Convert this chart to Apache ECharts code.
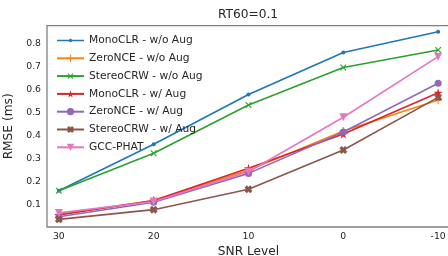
<!DOCTYPE html>
<html>
<head>
<meta charset="utf-8">
<script src="https://cdn.jsdelivr.net/npm/echarts@6/dist/echarts.min.js"></script>
<style>html,body{margin:0;padding:0;background:#fff}#c{width:448px;height:256px}</style>
</head>
<body>
<div id="c"></div>
<script>
const snrLevels = [30, 20, 10, 0, -10];
const yTicks = [0.1, 0.2, 0.3, 0.4, 0.5, 0.6, 0.7, 0.8];
const seriesNames = ['MonoCLR - w/o Aug', 'ZeroNCE - w/o Aug', 'StereoCRW - w/o Aug', 'MonoCLR - w/ Aug', 'ZeroNCE - w/ Aug', 'StereoCRW - w/ Aug', 'GCC-PHAT'];
const monoclrNoAug = [0.162, 0.363, 0.578, 0.760, 0.850];
const zeronceNoAug = [0.060, 0.120, 0.250, 0.420, 0.555];
const stereocrwNoAug = [0.162, 0.324, 0.533, 0.695, 0.771];
const monoclrAug = [0.057, 0.120, 0.259, 0.407, 0.586];
const zeronceAug = [0.049, 0.112, 0.237, 0.416, 0.627];
const stereocrwAug = [0.038, 0.080, 0.168, 0.338, 0.566];
const gccPhat = [0.066, 0.115, 0.244, 0.480, 0.742];

const colors = ['#1f77b4', '#ff7f0e', '#2ca02c', '#d62728', '#9467bd', '#8c564b', '#e377c2'];
const PLUS = 'path://M4.3,0H5.7V4.3H10V5.7H5.7V10H4.3V5.7H0V4.3H4.3Z';
const XFILL = 'path://M3,0H7V3H10V7H7V10H3V7H0V3H3Z';
const STAR = 'path://M50,0 L61,35 L98,35 L68,57 L79,91 L50,70 L21,91 L32,57 L2,35 L39,35Z';
const DOT_LEGEND = 'path://M0,0H0.01V0.01H0Z M0,3.7H27V5.3H0Z M11.8,4.5A1.7,1.7 0 1,1 15.2,4.5A1.7,1.7 0 1,1 11.8,4.5Z M26.99,8.99H27V9H26.99Z';
const markers = [
  {symbol: 'circle', size: 4, rot: 0},
  {symbol: PLUS, size: 8, rot: 0},
  {symbol: PLUS, size: 8, rot: 45},
  {symbol: STAR, size: 9, rot: 0},
  {symbol: 'circle', size: 7, rot: 0},
  {symbol: XFILL, size: 8, rot: 45},
  {symbol: 'triangle', size: 8, rot: 180}
];
const values = [monoclrNoAug, zeronceNoAug, stereocrwNoAug, monoclrAug, zeronceAug, stereocrwAug, gccPhat];
const FONT = 'DejaVu Sans';
const TXT = '#262626';

const series = seriesNames.map((name, i) => ({
  name: name,
  type: 'line',
  data: snrLevels.map((s, j) => [s, values[i][j]]),
  symbol: markers[i].symbol,
  symbolSize: markers[i].size,
  symbolRotate: markers[i].rot,
  showAllSymbol: true,
  lineStyle: {color: colors[i], width: 1.6},
  itemStyle: {color: colors[i]},
  emphasis: {disabled: true},
  animation: false
}));

const legendData = seriesNames.map((n, i) => i === 0 ? {name: n, icon: DOT_LEGEND} : {name: n});

const chart = echarts.init(document.getElementById('c'), null, {renderer: 'canvas'});
chart.setOption({
  backgroundColor: '#ffffff',
  animation: false,
  title: {
    text: 'RT60=0.1', left: 218, top: 9, padding: 0,
    textStyle: {fontFamily: FONT, fontSize: 12.2, fontWeight: 'normal', color: TXT}
  },
  legend: {
    orient: 'vertical', left: 56, top: 35, padding: 0,
    itemWidth: 27, itemHeight: 9, itemGap: 6.8,
    textStyle: {fontFamily: FONT, fontSize: 10.7, color: TXT, lineHeight: 9},
    data: legendData
  },
  grid: {
    left: 47, right: -2, top: 25.7, bottom: 29,
    containLabel: false, outerBoundsMode: 'none',
    show: true, borderColor: '#808080', borderWidth: 1.3, backgroundColor: 'transparent'
  },
  xAxis: {
    type: 'value', inverse: true, min: -11.25, max: 31.25,
    axisLine: {show: false}, axisTick: {show: false}, splitLine: {show: false},
    axisLabel: {customValues: snrLevels, margin: 5, fontFamily: FONT, fontSize: 9.3, color: TXT,
      formatter: v => String(v)},
    name: 'SNR Level', nameLocation: 'middle', nameGap: 15,
    nameTextStyle: {fontFamily: FONT, fontSize: 12.2, color: TXT}
  },
  yAxis: {
    type: 'value', min: 0.005, max: 0.876,
    axisLine: {show: false}, axisTick: {show: false}, splitLine: {show: false},
    axisLabel: {customValues: yTicks, margin: 6, fontFamily: FONT, fontSize: 9.3, color: TXT,
      formatter: v => v.toFixed(1)},
    name: 'RMSE (ms)', nameLocation: 'middle', nameGap: 26,
    nameTextStyle: {fontFamily: FONT, fontSize: 12.2, color: TXT}
  },
  series: series
});
</script>
</body>
</html>
